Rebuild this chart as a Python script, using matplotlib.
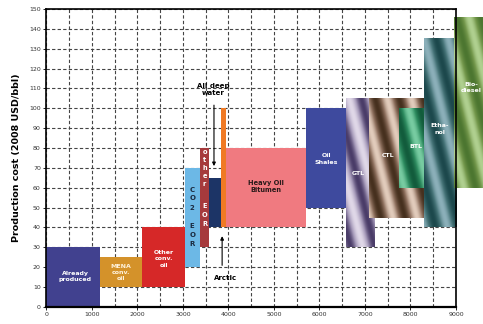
import numpy as np
import matplotlib
matplotlib.use("Agg")
import matplotlib.pyplot as plt
from matplotlib.colors import LinearSegmentedColormap

# Supply segments: cumulative volume (billion bbl) and production cost range
names = ["Already produced", "MENA conv. oil", "Other conv. oil", "CO2 EOR",
         "other EOR", "All deep water", "Arctic", "Heavy Oil Bitumen",
         "Oil Shales", "GTL", "CTL", "BTL", "Ethanol", "Biodiesel"]
x_start = [0, 1180, 2100, 3040, 3370, 3580, 3830, 3950, 5710, 6580, 7080, 7740, 8300, 8960]
x_end = [1180, 2100, 3040, 3370, 3580, 3830, 3950, 5710, 6590, 7200, 8300, 8300, 9020, 9700]
cost_low = [0, 10, 10, 20, 30, 40, 40, 40, 50, 30, 45, 60, 40, 60]
cost_high = [30, 25, 40, 70, 80, 65, 100, 80, 100, 105, 105, 100, 135, 146]
colors = ["#41418f", "#d4922a", "#d62828", "#6cb8e6", "#a63a3c", "#1c3466",
          "#f07a24", "#f07a80", "#3e4a9e", None, None, None, None, None]
# dark / mid / light tones for the striped (alternative fuel) segments
shades = {
    "GTL": ("#4a3c68", "#a498b8", "#e0d8e8"),
    "CTL": ("#46301e", "#8e705e", "#e2ccbc"),
    "BTL": ("#125c3c", "#2e8c60", "#78cca2"),
    "Ethanol": ("#1c484c", "#467478", "#8cb0ba"),
    "Biodiesel": ("#4c7630", "#74984c", "#b0d090"),
}

x_ticks = [0, 1000, 2000, 3000, 4000, 5000, 6000, 7000, 8000, 9000]
y_ticks = list(range(0, 151, 10))

fig = plt.figure(figsize=(4.83, 3.24), dpi=100)
ax = fig.add_axes([0.096, 0.053, 0.848, 0.919])
ax.set_xlim(0, 9000)
ax.set_ylim(0, 150)

ax.set_xticks(x_ticks)
ax.set_xticks(np.arange(500, 9000, 1000), minor=True)
ax.set_yticks(y_ticks)
ax.tick_params(axis="both", which="major", labelsize=4.5, labelcolor="#333333",
               length=2, width=0.6, direction="out", pad=2)
ax.tick_params(axis="x", which="minor", length=0)
ax.grid(True, which="both", linestyle=(0, (3, 2)), color="#444444", linewidth=0.8)
ax.set_axisbelow(True)
for s in ax.spines.values():
    s.set_linewidth(1.2)
    s.set_color("black")
    s.set_zorder(20)
ax.spines["bottom"].set_linewidth(1.6)

ax.set_ylabel("Production cost (2008 USD/bbl)", fontsize=6.8, fontweight="bold",
              labelpad=6)

fig.canvas.draw()
px_per_x = (ax.transData.transform((1000, 0))[0] - ax.transData.transform((0, 0))[0]) / 1000.0
px_per_y = (ax.transData.transform((0, 10))[1] - ax.transData.transform((0, 0))[1]) / 10.0

for i, name in enumerate(names):
    x0, x1 = x_start[i], x_end[i]
    y0, y1 = cost_low[i], cost_high[i]
    z = 3 + i
    if colors[i] is not None:
        ax.bar(x0, y1 - y0, width=x1 - x0, bottom=y0, align="edge",
               color=colors[i], linewidth=0, zorder=z, clip_on=False)
    else:
        cmap = LinearSegmentedColormap.from_list(name, list(shades[name]))
        w_px = (x1 - x0) * px_per_x
        h_px = (y1 - y0) * px_per_y
        nx, ny = max(int(w_px * 3), 2), max(int(h_px * 3), 2)
        gx = np.linspace(0, w_px, nx)[None, :]
        gy = np.linspace(0, h_px, ny)[:, None]
        u = gx - 0.25 * gy + 9 * i
        img = 0.5 - 0.5 * np.cos(2 * np.pi * u / 24.0)
        ax.imshow(img, extent=(x0, x1, y0, y1), origin="upper", cmap=cmap,
                  vmin=0, vmax=1, aspect="auto", interpolation="bilinear",
                  zorder=z, clip_on=False)

ax.set_xlim(0, 9000)
ax.set_ylim(0, 150)

white = dict(color="white", fontsize=4.5, fontweight="bold", ha="center",
             va="center", zorder=40, linespacing=1.3)
ax.text(630, 15.3, "Already\nproduced", **white)
ax.text(1630, 17.2, "MENA\nconv.\noil", **{**white, "color": "#fff2dc"})
ax.text(2577, 24.1, "Other\nconv.\noil", **white)
ax.text(6154, 74.5, "Oil\nShales", **white)
ax.text(6850, 67.2, "GTL", **white)
ax.text(7511, 76, "CTL", **white)
ax.text(8121, 81, "BTL", **white)
ax.text(8640, 89.6, "Etha-\nnol", **white)
ax.text(9333, 110.4, "Bio-\ndiesel", clip_on=False, **white)
ax.text(4833, 60.6, "Heavy Oil\nBitumen", color="#2a1a1a", fontsize=4.8,
        fontweight="bold", ha="center", va="center", zorder=40, linespacing=1.3)

# stacked letters inside the narrow EOR segments
co2_letters = ["C", "O", "2", "E", "O", "R"]
co2_y = [59.1, 54.6, 49.6, 40.8, 36.1, 31.6]
for ch, yy in zip(co2_letters, co2_y):
    ax.text(3205, yy, ch, color="#1a2a40", fontsize=5, fontweight="bold",
            ha="center", va="center", zorder=40)
eor_letters = ["o", "t", "h", "e", "r", "E", "O", "R"]
eor_y = [78, 74, 70, 65.8, 62, 50.7, 46.2, 41.5]
for ch, yy in zip(eor_letters, eor_y):
    ax.text(3475, yy, ch, color="white", fontsize=4.8, fontweight="bold",
            ha="center", va="center", zorder=40)

ax.text(3665, 109.6, "All deep\nwater", color="black", fontsize=5,
        fontweight="bold", ha="center", va="center", zorder=40, linespacing=1.15)
ax.annotate("", xy=(3683, 69.5), xytext=(3683, 103),
            arrowprops=dict(arrowstyle="-|>", color="black", lw=0.8,
                            mutation_scale=5), zorder=40)
ax.text(3936, 14.3, "Arctic", color="black", fontsize=5, fontweight="bold",
        ha="center", va="center", zorder=40)
ax.annotate("", xy=(3862, 37), xytext=(3862, 19.5),
            arrowprops=dict(arrowstyle="-|>", color="black", lw=0.8,
                            mutation_scale=5), zorder=40)

fig.savefig("out.png", dpi=100)
